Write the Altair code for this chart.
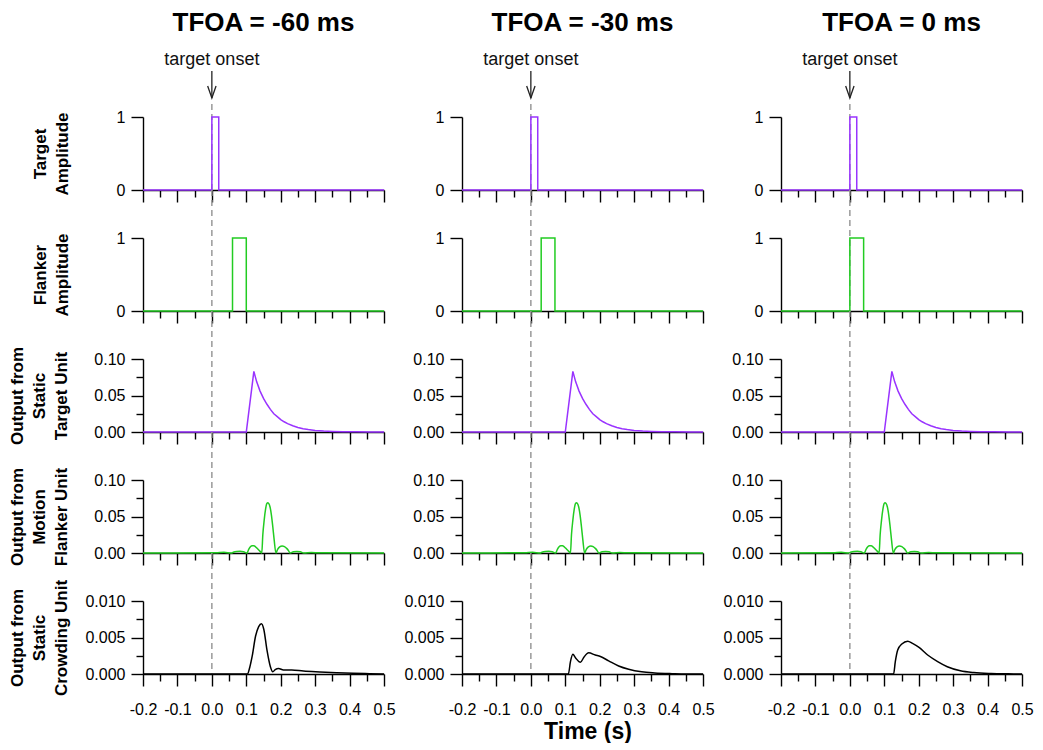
import altair as alt
import pandas as pd

FONT = "Liberation Sans"
PURPLE = "#9933ff"
GREEN = "#22cc22"
BLACK = "#000000"

col_titles = ["TFOA = -60 ms", "TFOA = -30 ms", "TFOA = 0 ms"]
row_titles = [
    ["Target", "Amplitude"],
    ["Flanker", "Amplitude"],
    ["Output from", "Static", "Target Unit"],
    ["Output from", "Motion", "Flanker Unit"],
    ["Output from", "Static", "Crowding Unit"],
]

x_ticks = [-0.2, -0.15, -0.1, -0.05, 0.0, 0.05, 0.1, 0.15, 0.2, 0.25, 0.3, 0.35, 0.4, 0.45, 0.5]
y_ticks_amp = [0, 1]
y_ticks_out = [0.0, 0.025, 0.05, 0.075, 0.1]
y_ticks_crowd = [0.0, 0.0025, 0.005, 0.0075, 0.01]

# target stimulus (same in every column)
target_t = [-0.2, 0.0, 0.02, 0.5]
target_v = [0, 1, 0, 0]

# flanker stimulus per column
flanker_t = [
    [-0.2, 0.06, 0.10, 0.5],
    [-0.2, 0.03, 0.07, 0.5],
    [-0.2, 0.00, 0.04, 0.5],
]
flanker_v = [0, 1, 0, 0]

# output from static target unit (same in every column)
static_t = [-0.2, 0.100, 0.122, 0.130, 0.140, 0.150, 0.160, 0.170, 0.180, 0.190, 0.200,
            0.210, 0.220, 0.235, 0.250, 0.265, 0.280, 0.300, 0.325, 0.350, 0.380, 0.420,
            0.460, 0.5]
static_v = [0, 0, 0.083, 0.069, 0.056, 0.046, 0.038, 0.031, 0.025, 0.021, 0.017,
            0.014, 0.0115, 0.0085, 0.0062, 0.0045, 0.0033, 0.0022, 0.0013, 0.0008, 0.0004, 0.0002,
            0.0001, 0]

# output from motion flanker unit per column
motion_t = [
    [-0.2, 0.012, 0.035, 0.057, 0.062, 0.072, 0.082, 0.092, 0.102, 0.107, 0.112, 0.117, 0.122,
     0.127, 0.134, 0.140, 0.145, 0.148, 0.152, 0.156, 0.159, 0.162, 0.165, 0.169, 0.173, 0.177,
     0.181, 0.186, 0.191, 0.197, 0.204, 0.211, 0.218, 0.223, 0.227, 0.237, 0.247, 0.257, 0.267,
     0.289, 0.312, 0.5],
    [-0.2, -0.018, 0.005, 0.027, 0.032, 0.042, 0.052, 0.062, 0.072, 0.077, 0.082, 0.087, 0.092,
     0.097, 0.104, 0.110, 0.115, 0.118, 0.122, 0.126, 0.129, 0.132, 0.135, 0.139, 0.143, 0.147,
     0.151, 0.156, 0.161, 0.167, 0.174, 0.181, 0.188, 0.193, 0.197, 0.207, 0.217, 0.227, 0.237,
     0.259, 0.282, 0.5],
    [-0.2, -0.048, -0.025, -0.003, 0.002, 0.012, 0.022, 0.032, 0.042, 0.047, 0.052, 0.057, 0.062,
     0.067, 0.074, 0.080, 0.085, 0.088, 0.092, 0.096, 0.099, 0.102, 0.105, 0.109, 0.113, 0.117,
     0.121, 0.126, 0.131, 0.137, 0.144, 0.151, 0.158, 0.163, 0.167, 0.177, 0.187, 0.197, 0.207,
     0.229, 0.252, 0.5],
]
motion_v = [0, 0.0003, 0.0009, 0, 0.001, 0.0022, 0.0025, 0.0018, 0, 0.005, 0.0085, 0.0098, 0.0098,
            0.0085, 0.005, 0.0022, 0, 0.025, 0.045, 0.060, 0.067, 0.069, 0.068, 0.063, 0.052, 0.036,
            0.018, 0, 0.005, 0.0085, 0.0097, 0.0088, 0.006, 0.003, 0, 0.0018, 0.0022, 0.0016, 0,
            0.0007, 0.0002, 0]

# output from static crowding unit per column
crowd_t = [
    [-0.2, 0.103, 0.110, 0.117, 0.127, 0.136, 0.144, 0.151, 0.160, 0.170, 0.177, 0.184, 0.194,
     0.208, 0.232, 0.266, 0.314, 0.362, 0.410, 0.458, 0.5],
    [-0.2, 0.109, 0.115, 0.122, 0.130, 0.144, 0.154, 0.168, 0.187, 0.202, 0.226, 0.255, 0.284,
     0.322, 0.360, 0.410, 0.450, 0.5],
    [-0.2, 0.127, 0.132, 0.139, 0.151, 0.168, 0.182, 0.202, 0.226, 0.255, 0.283, 0.321, 0.360,
     0.410, 0.460, 0.5],
]
crowd_v = [
    [0, 0, 0.0009, 0.0024, 0.0052, 0.0065, 0.0069, 0.0061, 0.0033, 0.0010, 0.0003, 0.0006, 0.00075,
     0.00055, 0.00055, 0.0004, 0.00028, 0.00018, 0.0001, 0.00004, 0],
    [0, 0, 0.0017, 0.0027, 0.0022, 0.0016, 0.0023, 0.0029, 0.0026, 0.0024, 0.0018, 0.0011, 0.00065,
     0.0003, 0.00015, 0.00005, 0, 0],
    [0, 0, 0.0017, 0.0033, 0.0041, 0.0045, 0.0042, 0.0036, 0.0026, 0.0017, 0.0010, 0.00045, 0.0002,
     0.00007, 0.00002, 0],
]

W, H = 241, 73
ROW_GAP = 48
COL_GAP = 78


def tick_size(test):
    return {"condition": {"test": test, "value": 12}, "value": 7}


X_MAJOR = "abs(datum.value*10 - round(datum.value*10)) < 0.001"


def x_axis(bottom, with_title):
    kw = dict(values=x_ticks, tickSize=tick_size(X_MAJOR), domainColor=BLACK, tickColor=BLACK,
              domainWidth=1.4, tickWidth=1.4, grid=False)
    if bottom:
        kw.update(labelExpr=X_MAJOR + " ? ((datum.value < -0.0001 ? '-' : '') + format(abs(datum.value), '.1f')) : ''",
                  labelFont=FONT, labelFontSize=16, labelColor=BLACK, labelPadding=15,
                  labelFlush=False, labelOverlap=False, labelBound=False)
    else:
        kw.update(labels=False)
    if with_title:
        kw.update(title="Time (s)", titleFont=FONT, titleFontSize=23, titleFontWeight="bold",
                  titleColor=BLACK, titleX=W / 2 + 5, titleY=64, titleBaseline="alphabetic",
                  titleAlign="center")
    else:
        kw.update(title=None)
    return alt.Axis(**kw)


def y_axis(row, col):
    if row < 2:
        values, fmt, test = y_ticks_amp, "d", "true"
        dom = [0, 1]
    elif row < 4:
        values, fmt, test = y_ticks_out, ".2f", "abs(datum.value*20 - round(datum.value*20)) < 0.001"
        dom = [0, 0.1]
    else:
        values, fmt, test = y_ticks_crowd, ".3f", "abs(datum.value*200 - round(datum.value*200)) < 0.001"
        dom = [0, 0.01]
    kw = dict(values=values, tickSize=tick_size(test), domainColor=BLACK, tickColor=BLACK,
              domainWidth=1.4, tickWidth=1.4, grid=False,
              labelExpr=test + " ? format(datum.value, '" + fmt + "') : ''",
              labelFont=FONT, labelFontSize=16, labelColor=BLACK, labelPadding=6,
              labelOverlap=False, labelFlush=False, labelBound=False)
    if col == 0:
        tx = -94 if len(row_titles[row]) == 2 else -117
        kw.update(title=row_titles[row], titleFont=FONT, titleFontSize=17, titleFontWeight="bold",
                  titleColor=BLACK, titleLineHeight=22, titleX=tx, titleY=H / 2,
                  titleAngle=-90, titleBaseline="bottom", titleAlign="center")
    else:
        kw.update(title=None)
    return alt.Axis(**kw), dom


def series(row, col):
    if row == 0:
        return target_t, target_v, PURPLE, "step-after"
    if row == 1:
        return flanker_t[col], flanker_v, GREEN, "step-after"
    if row == 2:
        return static_t, static_v, PURPLE, "linear"
    if row == 3:
        return motion_t[col], motion_v, GREEN, "monotone"
    return crowd_t[col], crowd_v[col], BLACK, "monotone"


def panel(row, col):
    ts, vs, color, interp = series(row, col)
    df = pd.DataFrame({"t": ts, "v": vs})
    xenc = alt.X("t:Q", scale=alt.Scale(domain=[-0.2, 0.5], nice=False, zero=False),
                 axis=x_axis(row == 4, row == 4 and col == 1))
    yax, dom = y_axis(row, col)
    yenc = alt.Y("v:Q", scale=alt.Scale(domain=dom, nice=False, zero=False), axis=yax)

    onset = pd.DataFrame({"t": [0.0]})
    rule_top = -13 if row == 0 else -ROW_GAP
    dashed = alt.Chart(onset).mark_rule(color="#999999", strokeDash=[6, 4], strokeWidth=1.5).encode(
        x=xenc, y=alt.value(rule_top), y2=alt.value(H))
    line = alt.Chart(df).mark_line(color=color, strokeWidth=1.5, interpolate=interp).encode(
        x=xenc, y=yenc)
    layers = [dashed, line]
    if row == 0:
        label = alt.Chart(onset).mark_text(text="target onset", font=FONT, fontSize=18, color="#111111",
                                           baseline="alphabetic", align="center").encode(
            x=xenc, y=alt.value(-52))
        shaft = alt.Chart(onset).mark_rule(color="#222222", strokeWidth=1.3).encode(
            x=xenc, y=alt.value(-46), y2=alt.value(-19))
        head = alt.Chart(onset).mark_point(shape="M-0.7,-1L0,1L0.7,-1", filled=False, size=144,
                                           strokeWidth=1.3, color="#222222", opacity=1).encode(
            x=xenc, y=alt.value(-25))
        layers += [label, shaft, head]
    ch = alt.layer(*layers).properties(width=W, height=H)
    if row == 0:
        ch = ch.properties(title=alt.TitleParams(col_titles[col], font=FONT, fontSize=26,
                                                 fontWeight="bold", color=BLACK, anchor="middle",
                                                 frame="group", offset=15))
    return ch


panels = [panel(r, c) for r in range(5) for c in range(3)]

chart = alt.concat(*panels, columns=3, spacing={"row": ROW_GAP, "column": COL_GAP},
                   bounds="flush").properties(
    padding={"left": 0, "top": 2, "right": 0, "bottom": 0}
).configure_view(stroke=None)

chart.save("out.html", embed_options={"renderer": "svg", "actions": False})
